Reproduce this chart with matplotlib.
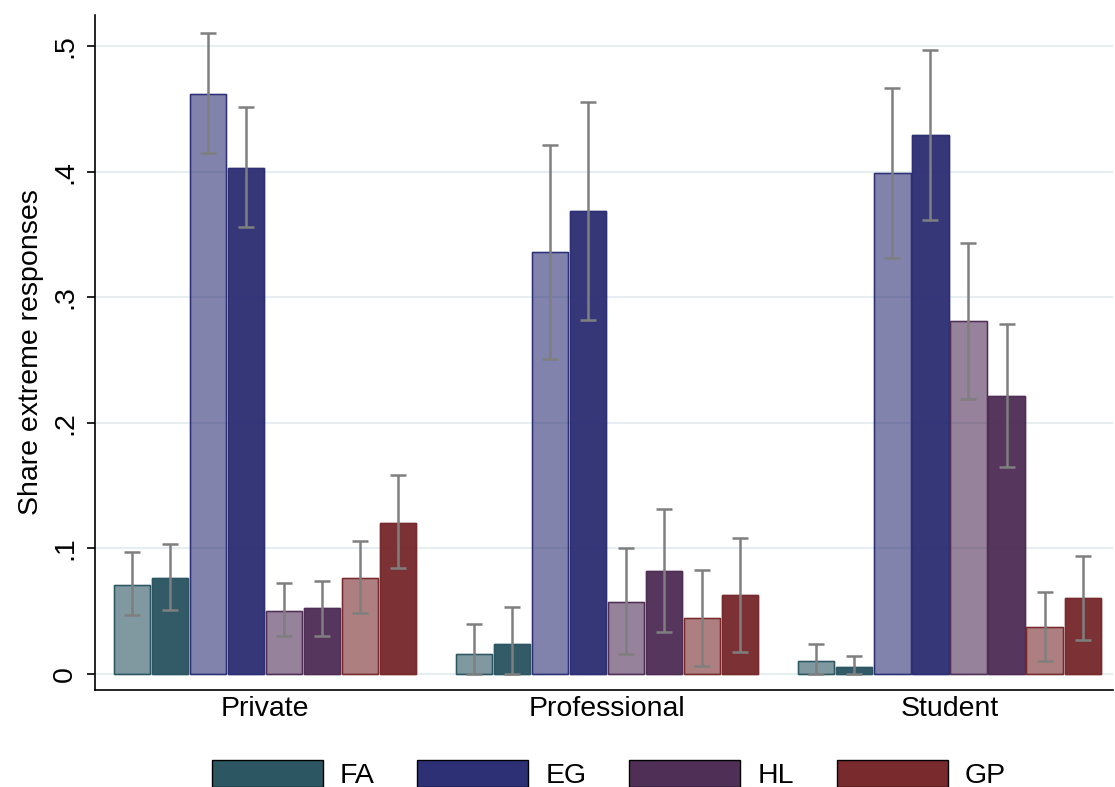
import matplotlib
matplotlib.use("Agg")
import matplotlib.pyplot as plt
import numpy as np
from matplotlib.patches import Patch

plt.rcParams['font.family'] = ['Liberation Sans', 'DejaVu Sans']

groups = ["Private", "Professional", "Student"]
series = ["FA", "EG", "HL", "GP"]
colors = ["#2c5662", "#2e3075", "#502f57", "#782a2d"]
# values per group: [FA light, FA dark, EG light, EG dark, HL light, HL dark, GP light, GP dark]
vals = {
    "Private":      [.071, .076, .462, .403, .050, .052, .076, .120],
    "Professional": [.016, .024, .336, .369, .057, .082, .044, .063],
    "Student":      [.010, .005, .399, .429, .281, .221, .037, .060],
}
lo = {
    "Private":      [.047, .051, .415, .356, .030, .030, .048, .084],
    "Professional": [.000, .000, .251, .282, .016, .033, .006, .017],
    "Student":      [.000, .000, .331, .362, .219, .165, .010, .027],
}
hi = {
    "Private":      [.097, .103, .511, .452, .072, .074, .106, .158],
    "Professional": [.040, .053, .421, .456, .100, .131, .083, .108],
    "Student":      [.024, .014, .467, .497, .343, .279, .065, .094],
}

FS = 20.5
fig = plt.figure(figsize=(11.15, 7.87), dpi=100)
ax = fig.add_axes([95/1115, 1-690/787, (1113-95)/1115, (690-15)/787])
for g, grp in enumerate(groups):
    for i in range(8):
        x = g*9 + i
        c = colors[i//2]
        a = 0.6 if i % 2 == 0 else 0.97
        ax.bar(x, vals[grp][i], width=0.95, color=c, alpha=a, edgecolor=c, linewidth=1.0, zorder=2)
        ax.bar(x, vals[grp][i], width=0.95, fill=False, edgecolor=c, linewidth=1.0, zorder=3)
        ax.errorbar(x, (lo[grp][i]+hi[grp][i])/2, yerr=(hi[grp][i]-lo[grp][i])/2,
                    fmt='none', ecolor='#7f7f7f', elinewidth=1.8, capsize=6, capthick=1.8, zorder=4)
ax.set_xlim(-0.97, 25.8)
ax.set_ylim(-0.013, 0.525)
yt = [0, .1, .2, .3, .4, .5]
ax.set_yticks(yt)
ax.set_yticklabels(["0", ".1", ".2", ".3", ".4", ".5"], rotation=90, va='center', fontsize=FS)
ax.set_xticks([g*9 + 3.5 for g in range(3)])
ax.set_xticklabels(groups, fontsize=FS)
ax.tick_params(axis='x', length=0, pad=4)
ax.tick_params(axis='y', length=6, width=1.2, pad=6)
ax.grid(axis='y', color='#e6eef0', linewidth=1.5, zorder=0)
ax.set_axisbelow(True)
for s in ['top', 'right']:
    ax.spines[s].set_visible(False)
ax.spines['left'].set_linewidth(1.2)
ax.spines['bottom'].set_linewidth(1.2)
ax.set_ylabel("Share extreme responses", fontsize=FS, labelpad=6)
handles = [Patch(facecolor=c, edgecolor='black', linewidth=1) for c in colors]
fig.legend(handles, series, loc='lower center', bbox_to_anchor=(0.546, -0.035), ncol=4, frameon=False,
           fontsize=FS, handlelength=3.9, handleheight=1.1, columnspacing=1.5, handletextpad=0.6)
fig.savefig("out.png", dpi=100)
